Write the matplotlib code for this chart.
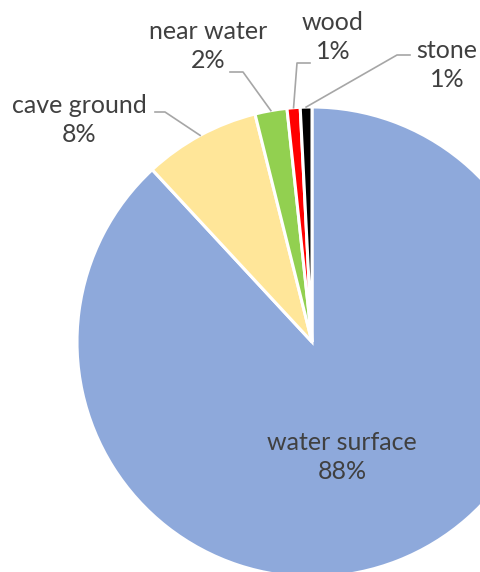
import numpy as np
import matplotlib.pyplot as plt

# datos (porcentajes)
etiquetas = ['water surface', 'cave ground', 'near water', 'wood', 'stone']
valores = [88.1, 8.0, 2.2, 0.9, 0.8]
colores = ['#8EA9DB', '#FFE699', '#92D050', '#FF0000', '#000000']

# posiciones de los rotulos (pixeles, y hacia arriba) y codo de la linea guia
pos_rotulos = {
    'water surface': (342, 115),
    'cave ground': (79, 452),
    'near water': (208, 526),
    'wood': (333, 535),
    'stone': (447, 507),
}
codos = {
    'cave ground': [(155, 460), (165, 460)],
    'near water': [(230, 500), (243, 500)],
    'wood': [(310, 509), (297, 509)],
    'stone': [(410, 517), (397, 517)],
}

plt.rcParams['font.family'] = ['Lato', 'DejaVu Sans']

fig = plt.figure(figsize=(4.8, 5.72), dpi=100)
ax = fig.add_axes([0, 0, 1, 1])
centro = (312, 230)
radio = 235

cunas, _ = ax.pie(valores, colors=colores, startangle=90, counterclock=False,
                  center=centro, radius=radio, frame=True,
                  wedgeprops=dict(edgecolor='white', linewidth=2.2))
ax.set_xlim(0, 480)
ax.set_ylim(0, 572)
ax.set_aspect('equal')
ax.axis('off')

total = sum(valores)
for cuna, nombre, v in zip(cunas, etiquetas, valores):
    x, y = pos_rotulos[nombre]
    ax.text(x, y, f'{nombre}\n{v / total * 100:.0f}%', ha='center', va='center',
            fontsize=18, color='#404040', linespacing=1.35)
    if nombre in codos:
        ang = np.deg2rad((cuna.theta1 + cuna.theta2) / 2)
        borde = (centro[0] + radio * np.cos(ang), centro[1] + radio * np.sin(ang))
        pts = codos[nombre] + [borde]
        ax.plot([p[0] for p in pts], [p[1] for p in pts], color='#A6A6A6', lw=1.2)

fig.savefig('out.png', dpi=100)
